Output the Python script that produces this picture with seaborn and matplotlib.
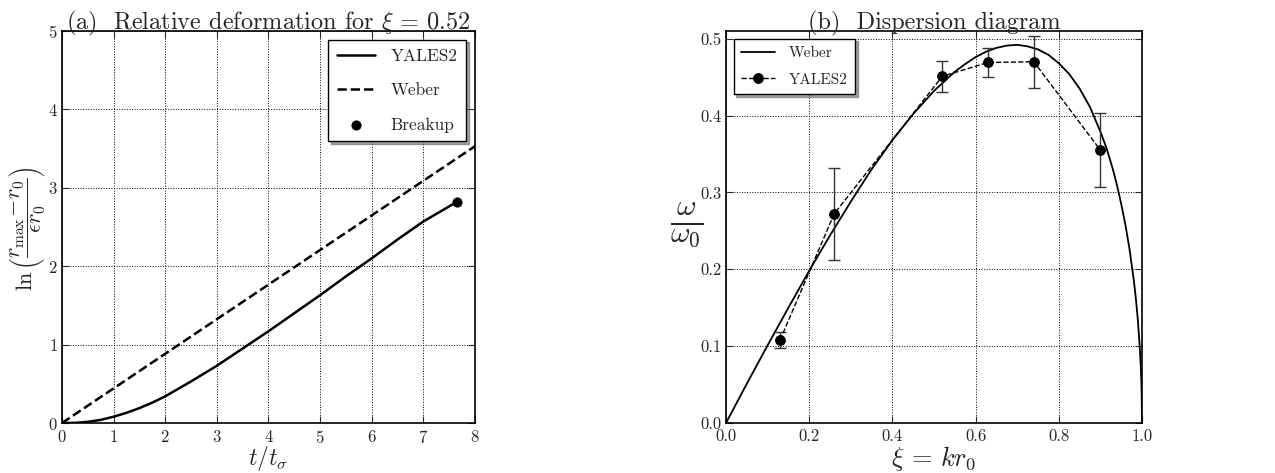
import numpy as np
import pandas as pd
import matplotlib
matplotlib.use("Agg")
import matplotlib.pyplot as plt
import seaborn as sns

# (a) deformation vs time
t_yales = [0.0, 0.25, 0.5, 0.75, 1.0, 1.25, 1.5, 1.75, 2.0, 2.5, 3.0, 3.5, 4.0, 4.5,
           5.0, 5.5, 6.0, 6.5, 7.0, 7.65]
ln_yales = [0.0, 0.002, 0.015, 0.04, 0.08, 0.13, 0.19, 0.26, 0.34, 0.53, 0.73, 0.95,
            1.17, 1.40, 1.63, 1.87, 2.10, 2.34, 2.57, 2.82]
t_weber = [0.0, 8.0]
ln_weber = [0.0, 3.53]
t_break = [7.65]
ln_break = [2.82]

# (b) dispersion diagram
xi_weber = [0.0, 0.05, 0.1, 0.15, 0.2, 0.25, 0.3, 0.35, 0.4, 0.45, 0.5, 0.55, 0.575,
            0.6, 0.625, 0.65, 0.675, 0.7, 0.725, 0.75, 0.775, 0.8, 0.825, 0.85,
            0.875, 0.9, 0.915, 0.93, 0.94, 0.95, 0.96, 0.97, 0.98, 0.985, 0.99,
            0.995, 0.9975, 0.999, 1.0]
om_weber = [0.0, 0.051, 0.101, 0.150, 0.198, 0.244, 0.288, 0.330, 0.368, 0.402,
            0.432, 0.457, 0.467, 0.476, 0.483, 0.488, 0.491, 0.492, 0.490, 0.486,
            0.479, 0.468, 0.454, 0.435, 0.411, 0.379, 0.357, 0.330, 0.309, 0.285,
            0.258, 0.226, 0.187, 0.163, 0.134, 0.095, 0.068, 0.043, 0.0]
xi_yales = [0.13, 0.26, 0.52, 0.63, 0.74, 0.90]
om_yales = [0.108, 0.272, 0.451, 0.469, 0.470, 0.355]
om_err = [0.011, 0.060, 0.020, 0.019, 0.034, 0.048]

sns.set_style("ticks")
plt.rcParams['font.family'] = ['cmr10', 'DejaVu Serif']
plt.rcParams['mathtext.fontset'] = 'cm'
plt.rcParams['axes.formatter.use_mathtext'] = True
plt.rcParams['axes.unicode_minus'] = False

fig = plt.figure(figsize=(12.75, 4.73), dpi=100)
ax1 = fig.add_axes([0.0486, 0.1057, 0.3239, 0.8288])
ax2 = fig.add_axes([0.5694, 0.1057, 0.3263, 0.8288])

grid_kw = dict(color='k', linestyle=':', linewidth=0.7)
leg_kw = dict(frameon=True, fancybox=False, shadow=True, framealpha=1,
              edgecolor='k', borderpad=0.5, handlelength=2.2, handletextpad=0.9)

# left panel
sns.lineplot(x=t_yales, y=ln_yales, ax=ax1, color='k', linewidth=1.8, label='YALES2')
sns.lineplot(x=t_weber, y=ln_weber, ax=ax1, color='k', linewidth=1.8,
             linestyle='--', label='Weber')
sns.scatterplot(x=t_break, y=ln_break, ax=ax1, color='k', s=45, edgecolor='k',
                label='Breakup', zorder=5)
ax1.set_xlim(0, 8)
ax1.set_ylim(0, 5)
ax1.set_xticks(range(0, 9))
ax1.set_yticks(range(0, 6))
ax1.set_title(r'(a)  Relative deformation for $\xi\,=\,0.52$', fontsize=17.5, pad=1)
ax1.set_xlabel(r'$t/t_\sigma$', fontsize=17, va='center')
ax1.xaxis.set_label_coords(0.5, -0.09)
ax1.set_ylabel(r'$\ln\left(\dfrac{r_{\mathrm{max}}\!-\!r_0}{\epsilon r_0}\right)$',
               fontsize=16, va='center')
ax1.yaxis.set_label_coords(-0.085, 0.495)
ax1.grid(True, **grid_kw)
ax1.legend(loc='upper right', fontsize=12.5, labelspacing=1.1, **leg_kw)

# right panel
sns.lineplot(x=xi_weber, y=om_weber, ax=ax2, color='k', linewidth=1.3,
             label='Weber', sort=False)
ax2.errorbar(xi_yales, om_yales, yerr=om_err, fmt='none', ecolor='#333333',
             elinewidth=1.0, capsize=4.5, capthick=1.0)
sns.lineplot(x=xi_yales, y=om_yales, ax=ax2, color='k', linewidth=1.0,
             linestyle='--', marker='o', markersize=7, markeredgecolor='k',
             label='YALES2', sort=False)
ax2.set_xlim(0, 1)
ax2.set_ylim(0, 0.51)
ax2.set_xticks(np.arange(0, 1.01, 0.2))
ax2.set_yticks(np.arange(0, 0.51, 0.1))
ax2.set_xticklabels(['0.0', '0.2', '0.4', '0.6', '0.8', '1.0'])
ax2.set_yticklabels(['0.0', '0.1', '0.2', '0.3', '0.4', '0.5'])
ax2.set_title('(b)  Dispersion diagram', fontsize=17.5, pad=1)
ax2.set_xlabel(r'$\xi\,=\,kr_0$', fontsize=19, va='center')
ax2.xaxis.set_label_coords(0.5, -0.09)
ax2.set_ylabel(r'$\frac{\omega}{\omega_0}$', fontsize=31, rotation=0, va='center',
               ha='center')
ax2.yaxis.set_label_coords(-0.094, 0.505)
ax2.grid(True, **grid_kw)
ax2.legend(loc='upper left', fontsize=11, labelspacing=0.85, **leg_kw)

for ax in (ax1, ax2):
    ax.tick_params(direction='in', top=True, right=True, labelsize=12,
                   length=5, width=0.8)
    ax.tick_params(axis='x', pad=4)
    ax.tick_params(axis='y', pad=3)
    for sp in ax.spines.values():
        sp.set_linewidth(1.2)
        sp.set_color('k')

fig.savefig('out.png', dpi=100)
